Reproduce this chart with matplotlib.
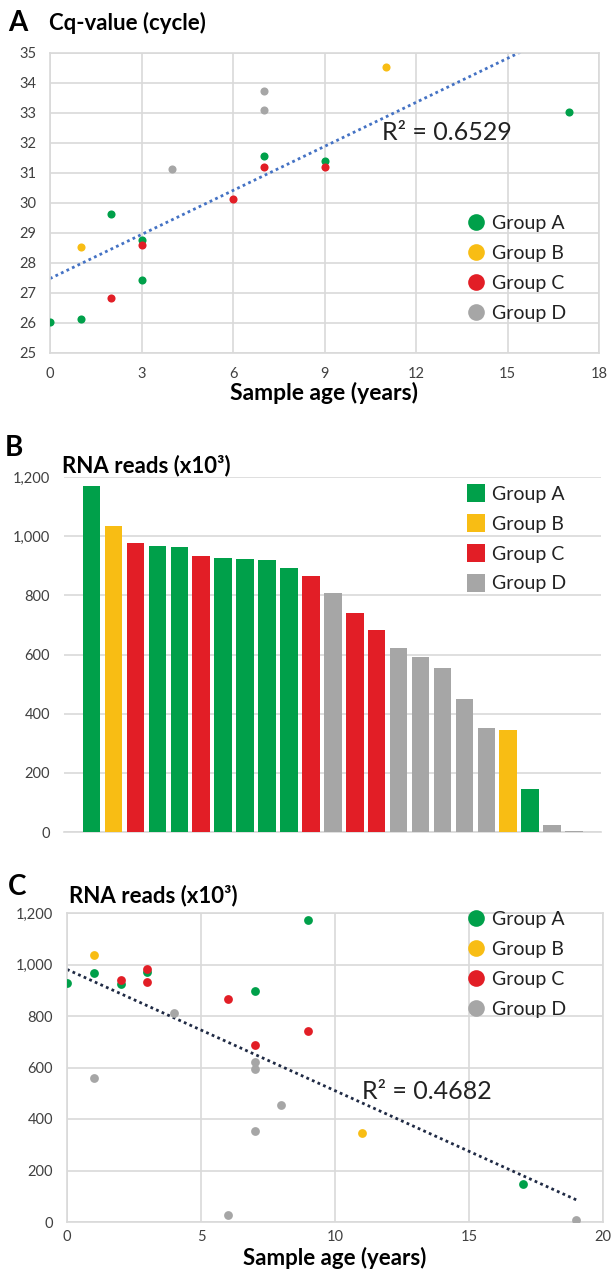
import numpy as np
import matplotlib
matplotlib.use("Agg")
import matplotlib.pyplot as plt
from matplotlib.lines import Line2D

plt.rcParams['font.family'] = ['Lato', 'DejaVu Sans']

# ---------------- data ----------------
groups = ["Group A", "Group B", "Group C", "Group D"]
group_colors = {"Group A": "#00A04A", "Group B": "#F8BD14", "Group C": "#E21E26", "Group D": "#A6A6A6"}

# Panel A: Cq-value vs sample age
a_age_A = [0, 1, 2, 3, 3, 7, 9, 17]
a_cq_A = [26.05, 26.14, 29.63, 28.77, 27.44, 31.58, 31.41, 33.05]
a_age_B = [1, 11]
a_cq_B = [28.55, 34.55]
a_age_C = [2, 3, 6, 7, 9]
a_cq_C = [26.84, 28.60, 30.13, 31.20, 31.20]
a_age_D = [4, 7, 7]
a_cq_D = [31.15, 33.72, 33.10]
a_r2_label = "R\u00b2 = 0.6529"

# Panel B: RNA reads per sample (x10^3), sorted
b_values = [1168, 1033, 976, 968, 962, 933, 927, 923, 919, 893, 865, 807, 739, 684,
            621, 593, 555, 449, 352, 346, 144, 25, 5]
b_groups = ["Group A", "Group B", "Group C", "Group A", "Group A", "Group C", "Group A",
            "Group A", "Group A", "Group A", "Group C", "Group D", "Group C", "Group C",
            "Group D", "Group D", "Group D", "Group D", "Group D", "Group B", "Group A",
            "Group D", "Group D"]

# Panel C: RNA reads vs sample age
c_age_A = [0, 1, 2, 3, 7, 9, 17]
c_reads_A = [929, 968, 925, 971, 896, 1172, 147]
c_age_B = [1, 11]
c_reads_B = [1038, 347]
c_age_C = [2, 3, 3, 6, 7, 9]
c_reads_C = [938, 982, 932, 865, 688, 741]
c_age_D = [1, 4, 6, 7, 7, 7, 8, 19]
c_reads_D = [561, 810, 27, 623, 596, 354, 453, 6]
c_r2_label = "R\u00b2 = 0.4682"

a_yticks = [25, 26, 27, 28, 29, 30, 31, 32, 33, 34, 35]
a_xticks = [0, 3, 6, 9, 12, 15, 18]
b_yticks = [0, 200, 400, 600, 800, 1000, 1200]
c_yticks = [0, 200, 400, 600, 800, 1000, 1200]
c_xticks = [0, 5, 10, 15, 20]

# ---------------- figure ----------------
W, H = 614, 1270
fig = plt.figure(figsize=(W / 100, H / 100), dpi=100)


def px_axes(l, t, r, b):
    return fig.add_axes([l / W, 1 - b / H, (r - l) / W, (b - t) / H])


GRID = "#D9D9D9"
TICKC = "#404040"
TICKSIZE = 10.5


def style_scatter_axes(ax):
    for s in ax.spines.values():
        s.set_color(GRID)
        s.set_linewidth(1.2)
    ax.grid(True, color=GRID, linewidth=1.2)
    ax.set_axisbelow(True)
    ax.tick_params(length=0, labelsize=TICKSIZE, colors=TICKC, pad=10)


def fmt_thousands(v):
    return f"{int(v):,}"


def legend_handles(marker, ms):
    return [Line2D([], [], marker=marker, ls="", ms=ms, color=group_colors[g],
                   markeredgewidth=0) for g in groups]


def add_legend(ax, handles, left_px, top_px):
    ax.legend(handles, groups, loc="upper left",
              bbox_to_anchor=(left_px / W, 1 - top_px / H), bbox_transform=fig.transFigure,
              frameon=False, fontsize=14, handlelength=0.9, handletextpad=0.4,
              labelspacing=0.66, borderpad=0, borderaxespad=0, labelcolor="#222222")


def set_xlabel_baseline(ax, text, baseline_px, top_px, bottom_px, size):
    ax.set_xlabel(text, fontsize=size, fontweight="bold")
    ax.xaxis.label.set_va("baseline")
    ax.xaxis.set_label_coords(0.5, (bottom_px - baseline_px) / (bottom_px - top_px))


# ---------- Panel A ----------
axA = px_axes(50, 53, 599, 353)
style_scatter_axes(axA)
a_sets = [(a_age_A, a_cq_A, "Group A"), (a_age_B, a_cq_B, "Group B"),
          (a_age_C, a_cq_C, "Group C"), (a_age_D, a_cq_D, "Group D")]
for xs, ys, g in a_sets:
    axA.scatter(xs, ys, s=34, color=group_colors[g], linewidths=0, zorder=3)
all_x = np.concatenate([np.array(s[0], float) for s in a_sets])
all_y = np.concatenate([np.array(s[1], float) for s in a_sets])
k, b0 = np.polyfit(all_x, all_y, 1)
xx = np.array([all_x.min(), all_x.max()])
axA.plot(xx, k * xx + b0, ls=(0, (1, 1.2)), color="#4472C4", lw=2.0, zorder=2)
axA.set_xlim(0, 18)
axA.set_ylim(25, 35)
axA.set_xticks(a_xticks)
axA.set_yticks(a_yticks)
axA.text(10.9, 32.35, a_r2_label, fontsize=18, color="#222222", ha="left", va="center")
set_xlabel_baseline(axA, "Sample age (years)", 400, 53, 353, 16.5)
add_legend(axA, legend_handles("o", 12), 467, 215)

# ---------- Panel B ----------
axB = px_axes(64, 477, 601, 832)
xpos = np.arange(len(b_values))
axB.bar(xpos, b_values, width=0.8, color=[group_colors[g] for g in b_groups], zorder=3)
axB.set_xlim(-1.26, len(b_values) - 1 + 1.23)
axB.set_ylim(0, 1200)
axB.set_yticks(b_yticks)
axB.set_yticklabels([fmt_thousands(v) for v in b_yticks])
axB.set_xticks([])
axB.grid(True, axis="y", color=GRID, linewidth=1.2)
axB.set_axisbelow(True)
for name, s in axB.spines.items():
    s.set_visible(name == "bottom")
axB.spines["bottom"].set_color(GRID)
axB.spines["bottom"].set_linewidth(1.2)
axB.tick_params(length=0, labelsize=TICKSIZE, colors=TICKC, pad=10)
add_legend(axB, legend_handles("s", 13), 467, 486)

# ---------- Panel C ----------
axC = px_axes(67, 913, 603, 1222)
style_scatter_axes(axC)
axC.tick_params(axis="x", pad=6)
c_sets = [(c_age_A, c_reads_A, "Group A"), (c_age_B, c_reads_B, "Group B"),
          (c_age_C, c_reads_C, "Group C"), (c_age_D, c_reads_D, "Group D")]
for xs, ys, g in c_sets:
    axC.scatter(xs, ys, s=40, color=group_colors[g], linewidths=0, zorder=3)
cx = np.concatenate([np.array(s[0], float) for s in c_sets])
cy = np.concatenate([np.array(s[1], float) for s in c_sets])
k2, b2 = np.polyfit(cx, cy, 1)
xx2 = np.array([cx.min(), cx.max()])
axC.plot(xx2, k2 * xx2 + b2, ls=(0, (1, 1.2)), color="#1F2A44", lw=2.0, zorder=2)
axC.set_xlim(0, 20)
axC.set_ylim(0, 1200)
axC.set_xticks(c_xticks)
axC.set_yticks(c_yticks)
axC.set_yticklabels([fmt_thousands(v) for v in c_yticks])
axC.text(11, 505, c_r2_label, fontsize=18, color="#222222", ha="left", va="center")
set_xlabel_baseline(axC, "Sample age (years)", 1265, 913, 1222, 16)
add_legend(axC, legend_handles("o", 12), 467, 911)

# ---------- titles ----------
fig.text(8 / W, 1 - 23 / H, "A", fontsize=20, fontweight="bold", va="center", ha="left")
fig.text(49 / W, 1 - 23 / H, "Cq-value (cycle)", fontsize=16, fontweight="bold", va="center", ha="left")
fig.text(5 / W, 1 - 448 / H, "B", fontsize=20, fontweight="bold", va="center", ha="left")
fig.text(62 / W, 1 - 466 / H, "RNA reads (x10\u00b3)", fontsize=16, fontweight="bold", va="center", ha="left")
fig.text(8 / W, 1 - 887 / H, "C", fontsize=20, fontweight="bold", va="center", ha="left")
fig.text(69 / W, 1 - 896 / H, "RNA reads (x10\u00b3)", fontsize=16, fontweight="bold", va="center", ha="left")

fig.savefig("out.png", dpi=100)
